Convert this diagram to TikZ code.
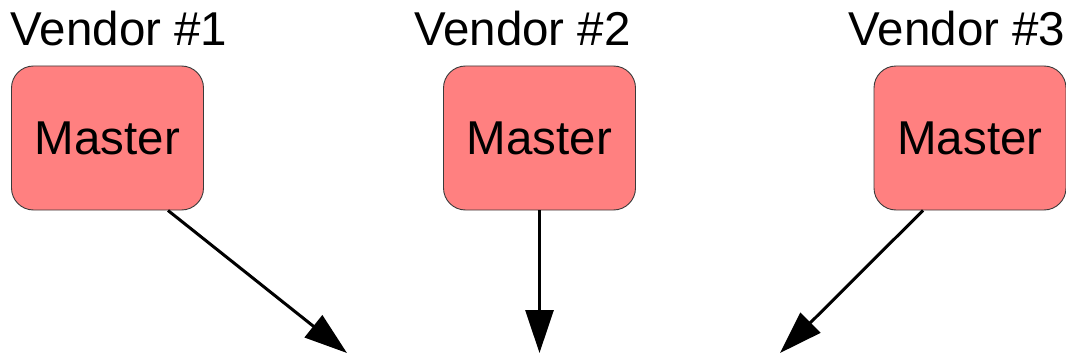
\documentclass[tikz,border=0pt]{standalone}
\usepackage{fontspec}
\setmainfont{Liberation Sans}
\usetikzlibrary{arrows.meta,calc}
\definecolor{masterfill}{HTML}{FF8080}
\definecolor{masterline}{HTML}{3A3A3A}
\tikzset{
  masterbox/.style={draw=masterline, line width=0.9pt, fill=masterfill,
    rounded corners=22pt, minimum width=192pt, minimum height=144pt,
    inner sep=0pt, font=\fontsize{47.5pt}{52pt}\selectfont},
  vendorlabel/.style={anchor=base, inner sep=0pt, font=\fontsize{47.5pt}{52pt}\selectfont},
  flow/.style={line width=3pt, -{Triangle[length=43pt,width=28pt]}}
}
\begin{document}
\begin{tikzpicture}[x=1pt,y=1pt]
  \useasboundingbox (0,0) rectangle (1066,357);
  % vendor masters
  \node[masterbox] (m1) at (107.5,219) {Master};
  \node[masterbox] (m2) at (539.5,219) {Master};
  \node[masterbox] (m3) at (970,219) {Master};
  % vendor titles
  \node[vendorlabel] (v1) at (119,312) {Vendor \#1};
  \node[vendorlabel] (v2) at (522.5,312) {Vendor \#2};
  \node[vendorlabel] (v3) at (957,312) {Vendor \#3};
  % arrow targets
  \coordinate (t1) at (347,4);
  \coordinate (t2) at (539.5,4);
  \coordinate (t3) at (780,4);
  % arrows
  \draw[flow] ([xshift=60.5pt]m1.south) -- (t1);
  \draw[flow] (m2.south) -- (t2);
  \draw[flow] ([xshift=-47pt]m3.south) -- (t3);
\end{tikzpicture}
\end{document}
